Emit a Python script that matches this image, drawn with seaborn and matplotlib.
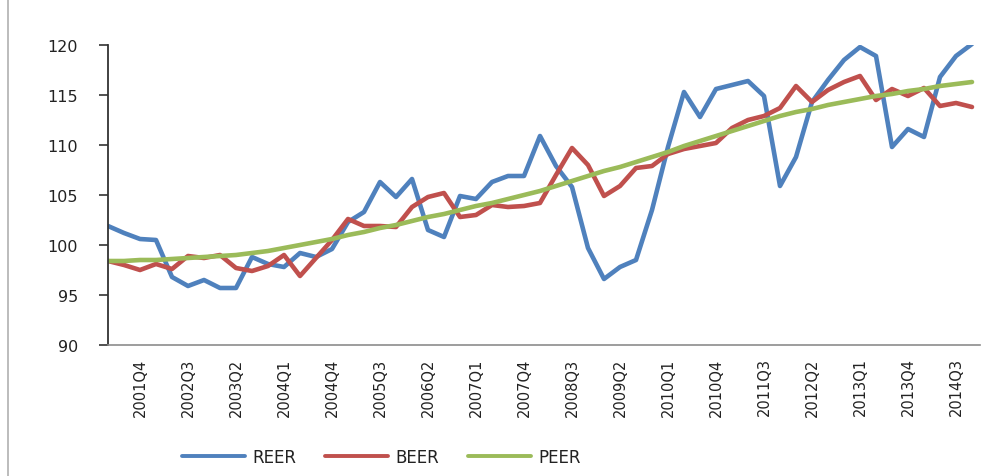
import pandas as pd
import seaborn as sns
import matplotlib.pyplot as plt
from matplotlib.lines import Line2D

# quarters 2001Q2 .. 2014Q4
quarters = [f"{y}Q{q}" for y in range(2001, 2015) for q in range(1, 5)][1:]

reer = [101.9, 101.2, 100.6, 100.5, 96.8, 95.9, 96.5, 95.7, 95.7, 98.8,
        98.1, 97.8, 99.2, 98.8, 99.6, 102.3, 103.3, 106.3, 104.8, 106.6,
        101.5, 100.8, 104.9, 104.6, 106.3, 106.9, 106.9, 110.9, 107.9, 105.8,
        99.7, 96.6, 97.8, 98.5, 103.5, 109.8, 115.3, 112.8, 115.6, 116.0,
        116.4, 114.9, 105.9, 108.8, 114.3, 116.5, 118.5, 119.8, 118.9, 109.8,
        111.6, 110.8, 116.8, 118.9, 120.1]
beer = [98.4, 98.0, 97.5, 98.1, 97.6, 98.9, 98.7, 99.0, 97.7, 97.4,
        97.9, 99.0, 96.9, 98.7, 100.5, 102.6, 101.9, 101.9, 101.8, 103.8,
        104.8, 105.2, 102.8, 103.0, 104.0, 103.8, 103.9, 104.2, 107.0, 109.7,
        108.0, 104.9, 105.9, 107.7, 107.9, 109.1, 109.6, 109.9, 110.2, 111.7,
        112.5, 112.9, 113.7, 115.9, 114.3, 115.5, 116.3, 116.9, 114.5, 115.6,
        114.9, 115.7, 113.9, 114.2, 113.8]
peer = [98.4, 98.4, 98.5, 98.5, 98.6, 98.7, 98.8, 98.9, 99.0, 99.2,
        99.4, 99.7, 100.0, 100.3, 100.6, 101.0, 101.3, 101.7, 102.0, 102.4,
        102.8, 103.1, 103.5, 103.9, 104.2, 104.6, 105.0, 105.4, 105.9, 106.4,
        106.9, 107.4, 107.8, 108.3, 108.8, 109.3, 109.9, 110.4, 110.9, 111.4,
        111.9, 112.4, 112.9, 113.3, 113.6, 114.0, 114.3, 114.6, 114.9, 115.1,
        115.4, 115.6, 115.9, 116.1, 116.3]

series = ["REER", "BEER", "PEER"]
colors = ["#4F81BD", "#C0504D", "#9BBB59"]

df = pd.DataFrame({"REER": reer, "BEER": beer, "PEER": peer})
df["idx"] = range(len(quarters))
long_df = df.melt(id_vars="idx", value_vars=series, var_name="series", value_name="value")

sns.set_style("white")
plt.rcParams["font.family"] = ["DejaVu Sans"]

fig = plt.figure(figsize=(10.01, 4.77), dpi=100)
ax = fig.add_axes([108 / 1001, 1 - 346 / 477, (980 - 108) / 1001, 300 / 477])

sns.lineplot(data=long_df, x="idx", y="value", hue="series", hue_order=series,
             palette=colors, linewidth=3.3, ax=ax, legend=False)

ax.set_xlim(0, 54.5)
ax.set_ylim(90, 120)
ax.set_yticks(range(90, 121, 5))
ax.tick_params(axis="y", direction="out", length=6.5, width=1.2, color="#333333",
               pad=15, labelsize=11.5, labelcolor="#222222", left=True)
tick_idx = list(range(2, len(quarters), 3))
ax.set_xticks(tick_idx)
ax.set_xticklabels([quarters[i] for i in tick_idx], rotation=90, fontsize=10.5, color="#222222")
ax.tick_params(axis="x", length=0, pad=9)
ax.set_xlabel("")
ax.set_ylabel("")

for s in ["top", "right"]:
    ax.spines[s].set_visible(False)
ax.spines["left"].set_color("#333333")
ax.spines["left"].set_linewidth(1.3)
ax.spines["bottom"].set_color("#8c8c8c")
ax.spines["bottom"].set_linewidth(1.2)

handles = [Line2D([0], [0], color=c, lw=2.8) for c in colors]
fig.legend(handles, series, loc="center", bbox_to_anchor=(0.381, 0.04), ncol=3,
           frameon=False, fontsize=12, handlelength=3.8, handletextpad=0.45,
           columnspacing=1.7, labelcolor="#222222")

# chart border (left edge)
fig.add_artist(Line2D([8 / 1001, 8 / 1001], [0, 1], color="#b0b0b0", lw=1.2))

fig.savefig("out.png", dpi=100)
